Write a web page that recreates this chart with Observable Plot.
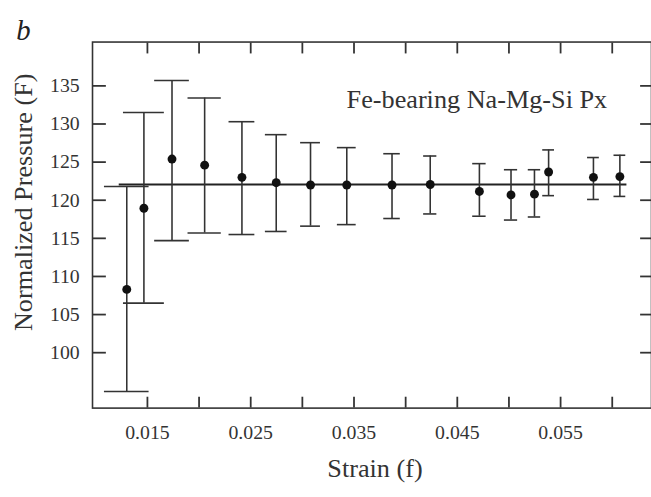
<!DOCTYPE html>
<html>
<head>
<meta charset="utf-8">
<script src="https://cdn.jsdelivr.net/npm/d3@7"></script>
<script src="https://cdn.jsdelivr.net/npm/@observablehq/plot@0.6"></script>
<style>
  html, body { margin: 0; padding: 0; background: #fff; overflow: hidden; }
  #chart svg { display: block; }
</style>
</head>
<body>
<div id="chart"></div>
<script>
// ---- data ----
const strain    = [0.0130, 0.01466, 0.01738, 0.02054, 0.02415, 0.02747, 0.03079, 0.03430, 0.03868, 0.04238, 0.04714, 0.05020, 0.05247, 0.05384, 0.05818, 0.06074];
const pressure  = [108.3, 118.95, 125.4, 124.6, 123.0, 122.3, 122.0, 122.0, 122.0, 122.06, 121.15, 120.7, 120.8, 123.7, 123.0, 123.1];
const upper     = [121.8, 131.5, 135.7, 133.4, 130.3, 128.6, 127.55, 126.9, 126.1, 125.8, 124.8, 124.0, 124.0, 126.6, 125.6, 125.9];
const lower     = [94.9, 106.5, 114.7, 115.7, 115.5, 115.9, 116.6, 116.8, 117.6, 118.2, 117.9, 117.4, 117.8, 120.6, 120.1, 120.5];
const strainErr = [0.00216, 0.00198, 0.00168, 0.00161, 0.00125, 0.00105, 0.00096, 0.00091, 0.0008, 0.00064, 0.00065, 0.00064, 0.0006, 0.00057, 0.00057, 0.00057];

const fitPressure = [122.06];
const fitStrainRange = [0.01227, 0.06142];

const xTicks = [0.015, 0.020, 0.025, 0.030, 0.035, 0.040, 0.045, 0.050, 0.055, 0.060];
const xLabelTicks = [0.015, 0.025, 0.035, 0.045, 0.055];
const xTickLabels = ["0.015", "0.025", "0.035", "0.045", "0.055"];
const yTicks = [100, 105, 110, 115, 120, 125, 130, 135];
const yTickLabels = ["100", "105", "110", "115", "120", "125", "130", "135"];

const panelLetter = "b";
const annotation = "Fe-bearing Na-Mg-Si Px";
const xLabel = "Strain (f)";
const yLabel = "Normalized Pressure (F)";

const data = strain.map((s, i) => ({
  strain: s, pressure: pressure[i], upper: upper[i], lower: lower[i],
  xlo: s - strainErr[i], xhi: s + strainErr[i]
}));

const ink = "#333";
const serif = "Liberation Serif, Times New Roman, serif";

const chart = Plot.plot({
  width: 658,
  height: 497,
  marginTop: 42,
  marginBottom: 85,
  marginLeft: 93,
  marginRight: 0,
  style: { fontFamily: serif, fontSize: "20px", color: ink, background: "#fff" },
  x: { domain: [0.009684, 0.0638], label: null },
  y: { domain: [92.73, 140.75], label: null },
  marks: [
    Plot.frame({ stroke: ink, strokeWidth: 1.6 }),
    Plot.axisX({ anchor: "bottom", ticks: xTicks, tickSize: -11, strokeWidth: 1.8,
                 tickFormat: () => "", label: null }),
    Plot.axisX({ anchor: "top", ticks: xTicks, tickSize: -11, strokeWidth: 1.8,
                 tickFormat: () => "", label: null }),
    Plot.axisY({ anchor: "left", ticks: yTicks, tickSize: -14, strokeWidth: 1.8,
                 tickFormat: () => "", label: null }),
    Plot.axisY({ anchor: "right", ticks: yTicks, tickSize: -12, strokeWidth: 1.8,
                 tickFormat: () => "", label: null }),
    // tick labels
    Plot.text(xLabelTicks, { x: (d) => d, text: (d, i) => xTickLabels[i], frameAnchor: "bottom",
                             dy: 24.5, lineAnchor: "middle", textAnchor: "middle", fontSize: 20, fill: ink }),
    Plot.text(yTicks, { y: (d) => d, text: (d, i) => yTickLabels[i], frameAnchor: "left",
                        dx: -13, lineAnchor: "middle", textAnchor: "end", fontSize: 20, fill: ink }),
    // mean line
    Plot.ruleY(fitPressure, { x1: fitStrainRange[0], x2: fitStrainRange[1], stroke: "#222", strokeWidth: 2 }),
    // error bars
    Plot.ruleX(data, { x: "strain", y1: "lower", y2: "upper", stroke: ink, strokeWidth: 1.6 }),
    Plot.ruleY(data, { y: "upper", x1: "xlo", x2: "xhi", stroke: ink, strokeWidth: 1.6 }),
    Plot.ruleY(data, { y: "lower", x1: "xlo", x2: "xhi", stroke: ink, strokeWidth: 1.6 }),
    Plot.dot(data, { x: "strain", y: "pressure", r: 4.5, fill: "#111", stroke: "none" }),
    // texts
    Plot.text([annotation], { frameAnchor: "top", dx: 106, dy: 47.5, lineAnchor: "top",
                              textAnchor: "middle", fontSize: 26.5, fill: ink }),
    Plot.text([panelLetter], { frameAnchor: "top-left", textAnchor: "start", dx: -77, dy: -11,
                               lineAnchor: "middle", fontSize: 29, fontStyle: "italic", fill: "#222" }),
    Plot.text([xLabel], { frameAnchor: "bottom", dx: 3, dy: 61.4, lineAnchor: "middle",
                          textAnchor: "middle", fontSize: 26.5, fill: ink }),
    Plot.text([yLabel], { frameAnchor: "left", rotate: -90, dx: -69.5, dy: -23, lineAnchor: "middle",
                          textAnchor: "middle", fontSize: 26.5, fill: ink })
  ]
});

document.getElementById("chart").appendChild(chart);
</script>
</body>
</html>
